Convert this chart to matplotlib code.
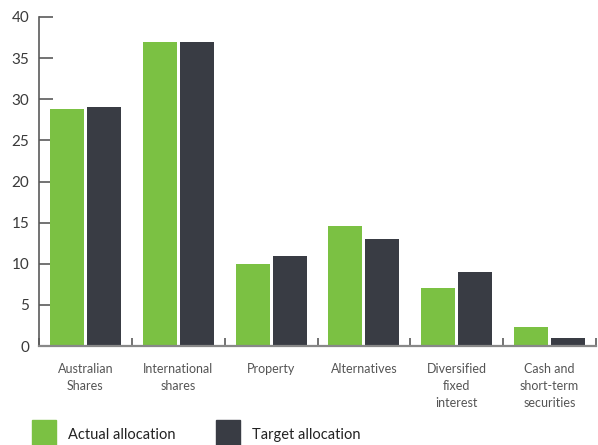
import matplotlib
matplotlib.use("Agg")
import matplotlib.pyplot as plt
import numpy as np
from matplotlib.patches import Patch

categories = ["Australian\nShares", "International\nshares", "Property", "Alternatives",
              "Diversified\nfixed\ninterest", "Cash and\nshort-term\nsecurities"]
actual = [28.8, 37.0, 10.0, 14.6, 7.05, 2.3]
target = [29.0, 37.0, 10.95, 13.0, 9.0, 1.0]
yticks = [0, 5, 10, 15, 20, 25, 30, 35, 40]
series_names = ["Actual allocation", "Target allocation"]

GREEN = "#7bc143"
DARK = "#393c44"
AXIS = "#5a5a5a"
TEXT = "#3a3a3a"

plt.rcParams["font.family"] = ["Lato", "DejaVu Sans"]

fig = plt.figure(figsize=(5.98, 4.45), dpi=100)
ax = fig.add_axes([39/598, 1-346/445, (596-39)/598, (346-17)/445])

x = np.arange(len(categories))
w = 0.366
off = 0.2
ax.bar(x - off, actual, width=w, color=GREEN, zorder=2)
ax.bar(x + off, target, width=w, color=DARK, zorder=2)

ax.set_xlim(-0.5, len(categories) - 0.5)
ax.set_ylim(0, 40)
ax.set_yticks(yticks)
ax.set_yticklabels([str(v) for v in yticks])
ax.tick_params(axis="y", direction="in", length=10, width=1.2, color=AXIS,
               labelsize=11, labelcolor=TEXT, pad=7)

# category separator ticks on x-axis
ax.set_xticks(np.arange(len(categories) + 1) - 0.5, minor=False)
ax.set_xticklabels([])
ax.tick_params(axis="x", direction="in", length=6, width=1.2, color=AXIS)
ax.set_xticks(x, minor=True)
ax.set_xticklabels(categories, minor=True, fontsize=9, color="#555555",
                   linespacing=1.5, va="top")
ax.tick_params(axis="x", which="minor", length=0, pad=12)

for s in ["top", "right"]:
    ax.spines[s].set_visible(False)
ax.spines["left"].set_color(AXIS)
ax.spines["left"].set_linewidth(1.2)
ax.spines["bottom"].set_color("#888888")
ax.spines["bottom"].set_linewidth(1.6)

handles = [Patch(color=GREEN), Patch(color=DARK)]
fig.legend(handles, series_names, loc="upper left",
           bbox_to_anchor=(32/598, 1-420/445), ncol=2, frameon=False,
           fontsize=10.5, handlelength=1.65, handleheight=2.7, handletextpad=0.8,
           columnspacing=2.8, borderpad=0, borderaxespad=0, labelcolor="#222222")

fig.savefig("out.png", dpi=100)
